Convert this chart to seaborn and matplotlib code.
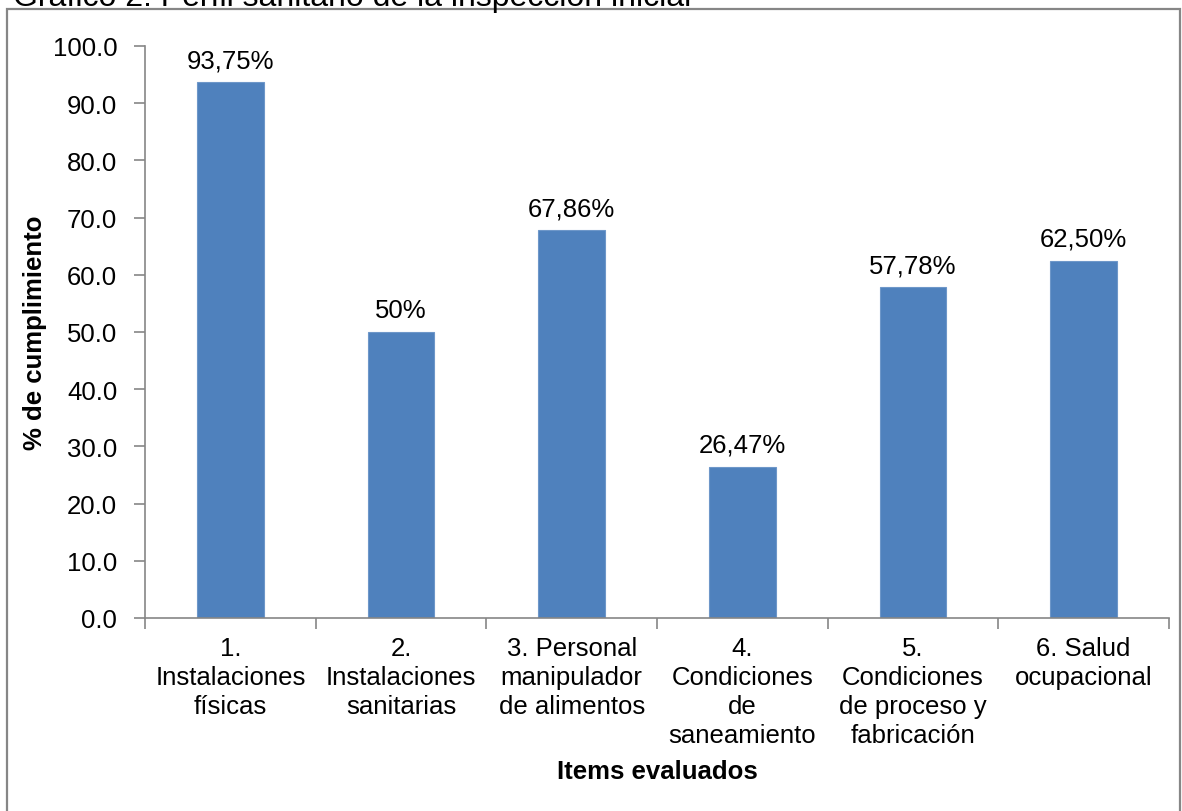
import matplotlib
matplotlib.use("Agg")
import matplotlib.pyplot as plt
from matplotlib.patches import Rectangle
from matplotlib.ticker import FixedLocator, FormatStrFormatter
import seaborn as sns
import pandas as pd

# Data
items = [
    "1.\nInstalaciones\nfísicas",
    "2.\nInstalaciones\nsanitarias",
    "3. Personal\nmanipulador\nde alimentos",
    "4.\nCondiciones\nde\nsaneamiento",
    "5.\nCondiciones\nde proceso y\nfabricación",
    "6. Salud\nocupacional",
]
cumplimiento = [93.75, 50.0, 67.86, 26.47, 57.78, 62.50]
etiquetas = ["93,75%", "50%", "67,86%", "26,47%", "57,78%", "62,50%"]
y_ticks = [0, 10, 20, 30, 40, 50, 60, 70, 80, 90, 100]

sns.set_theme(style="white")
plt.rcParams["font.family"] = ["Liberation Sans", "DejaVu Sans"]

FS = 18.5
W, H = 1182, 812
fig = plt.figure(figsize=(W / 100, H / 100), dpi=100)
ax = fig.add_axes([145 / W, 1 - 619 / H, (1169 - 145) / W, (619 - 47) / H])

df = pd.DataFrame({"item": items, "valor": cumplimiento})
sns.barplot(data=df, x="item", y="valor", color="#4F81BD", saturation=1,
            width=0.39, edgecolor="#6E97C9", linewidth=0.8, ax=ax)

ax.set_xlim(-0.5, len(items) - 0.5)
ax.set_ylim(0, 100)

# Value labels above bars
for i, (v, lab) in enumerate(zip(cumplimiento, etiquetas)):
    ax.annotate(lab, (i, v), xytext=(0, 7), textcoords="offset points",
                ha="center", va="bottom", fontsize=FS, color="black")

# Y axis
ax.yaxis.set_major_locator(FixedLocator(y_ticks))
ax.yaxis.set_major_formatter(FormatStrFormatter("%.1f"))
ax.tick_params(axis="y", which="major", direction="out", length=8, width=1.2,
               color="#868686", labelsize=FS, pad=12, left=True,
               labelcolor="black")

# X axis: ticks at category boundaries, labels at category centres
ax.xaxis.set_major_locator(FixedLocator([i - 0.5 for i in range(len(items) + 1)]))
ax.xaxis.set_major_formatter(plt.NullFormatter())
ax.xaxis.set_minor_locator(FixedLocator(list(range(len(items)))))
ax.set_xticklabels(items, minor=True)
ax.tick_params(axis="x", which="major", direction="out", length=8, width=1.2,
               color="#868686", bottom=True)
ax.tick_params(axis="x", which="minor", length=0, labelsize=FS, pad=13,
               labelcolor="black")
for t in ax.get_xticklabels(minor=True):
    t.set_linespacing(1.27)
    t.set_ha("center")

for s in ["top", "right"]:
    ax.spines[s].set_visible(False)
for s in ["left", "bottom"]:
    ax.spines[s].set_color("#868686")
    ax.spines[s].set_linewidth(1.2)

ax.set_xlabel("Items evaluados", fontsize=FS, fontweight="bold", labelpad=8,
              color="black")
ax.set_ylabel("% de cumplimiento", fontsize=FS, fontweight="bold",
              color="black", va="center")
ax.yaxis.set_label_coords(-0.107, 0.5)
ax.grid(False)

# Outer chart frame
fig.patches.append(Rectangle((7 / W, -0.05), (1180 - 7) / W, 1.05 - 10 / H,
                             transform=fig.transFigure, fill=False,
                             edgecolor="#868686", linewidth=1.6, zorder=0))

# Caption above the frame
fig.text(13 / W, 1 - 6 / H, "Gráfico 2. Perfil sanitario de la inspección inicial",
         fontsize=23, ha="left", va="baseline", color="black")

fig.savefig("out.png", dpi=100, facecolor="white")
